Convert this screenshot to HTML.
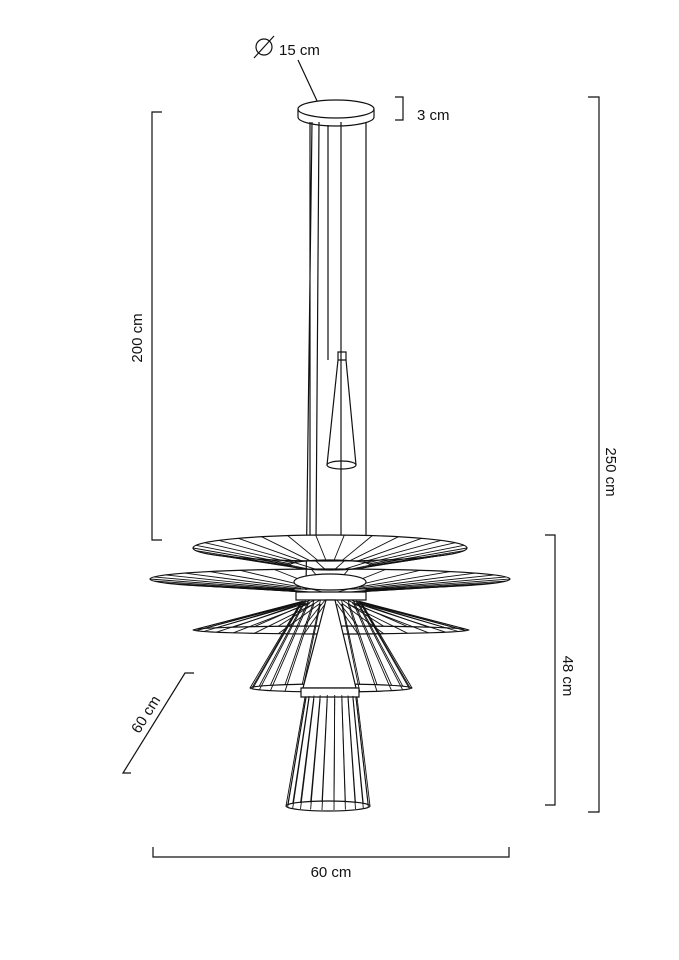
<!DOCTYPE html>
<html><head><style>
html,body{margin:0;padding:0;background:#fff;}
svg{display:block}
text{font-family:"Liberation Sans",sans-serif;font-size:15px;fill:#111}
</style></head><body>
<svg id="s" width="679" height="960" viewBox="0 0 679 960" xmlns="http://www.w3.org/2000/svg" fill="none" stroke="#111" stroke-width="1.2">
<path d="M162 112H152V540H162"/>
<text x="142" y="338" text-anchor="middle" transform="rotate(-90 142 338)" stroke="none">200 cm</text>
<path d="M588 97H599V812H588"/>
<text x="606" y="472" text-anchor="middle" transform="rotate(90 606 472)" stroke="none">250 cm</text>
<path d="M545 535H555V805H545"/>
<text x="563" y="676" text-anchor="middle" transform="rotate(90 563 676)" stroke="none">48 cm</text>
<path d="M153 847V857H509V847"/>
<text x="331" y="877" text-anchor="middle" stroke="none">60 cm</text>
<path d="M194 673H185L123 773H131"/>
<text x="150" y="717" text-anchor="middle" transform="rotate(-58 150 717)" stroke="none">60 cm</text>
<path d="M395 97H403V120H395"/>
<text x="417" y="120" stroke="none">3 cm</text>
<circle cx="264" cy="47" r="8"/><path d="M254 58L274 36"/>
<text x="279" y="55" stroke="none">15 cm</text>
<path d="M298 60L318 103"/>
<ellipse cx="336" cy="109" rx="38" ry="9" fill="#fff"/>
<path d="M298 109V117A38 9 0 0 0 374 117V109"/>
<path d="M310 122V540M319 122L316 540M328 125V360M341 122V545M366 122V545M312 122L306 590"/>
<path d="M338 352H346V360H338ZM338 360L327 465M346 360L356 465"/>
<ellipse cx="341.5" cy="465" rx="14.5" ry="4"/>
<g id="g" stroke-width="0.9"></g>
</svg>
<script>
var g=document.getElementById('g');var h='';
function L(a,b,c,d){h+='<path d="M'+a.toFixed(1)+' '+b.toFixed(1)+'L'+c.toFixed(1)+' '+d.toFixed(1)+'"/>';}
function E(cx,cy,rx,ry,f){h+='<ellipse cx="'+cx+'" cy="'+cy+'" rx="'+rx+'" ry="'+ry+'"'+(f?' fill="#fff"':'')+' stroke-width="1.2"/>';}
E(330,548,137,13,1);
for(var i=0;i<30;i++){var t=i/30*2*Math.PI;L(330+137*Math.cos(t),548+13*Math.sin(t),330+40*Math.cos(t),565+5*Math.sin(t));}
E(330,565,40,5);
E(330,579,180,10,0);
for(var i=0;i<30;i++){var t=i/30*2*Math.PI;L(330+180*Math.cos(t),579+10*Math.sin(t),330+36*Math.cos(t),590+3*Math.sin(t));}
E(330,582,36,8,1);
h+='<path d="M296 592H366V600H296Z" fill="#fff" stroke-width="1.2"/>';
E(331,630,138,4,0);
for(var i=0;i<32;i++){var t=i/32*2*Math.PI;L(331+138*Math.cos(t),630+4*Math.sin(t),331+30*Math.cos(t),602+2*Math.sin(t));}
for(var i=0;i<26;i++){var t=i/26*2*Math.PI;L(331+30*Math.cos(t),602+2*Math.sin(t),331+81*Math.cos(t),688+4*Math.sin(t));}
E(331,688,81,4);
h+='<path d="M326 600H335L356 688H303Z" fill="#fff" stroke-width="1.2"/>';
h+='<path d="M301 688H359V697H301Z" fill="#fff" stroke-width="1.2"/>';
for(var i=0;i<22;i++){var t=i/22*2*Math.PI;L(331+26*Math.cos(t),697+2*Math.sin(t),328+42*Math.cos(t),806+4*Math.sin(t));}
E(328,806,42,5);
g.innerHTML=h;
</script>
</body></html>
